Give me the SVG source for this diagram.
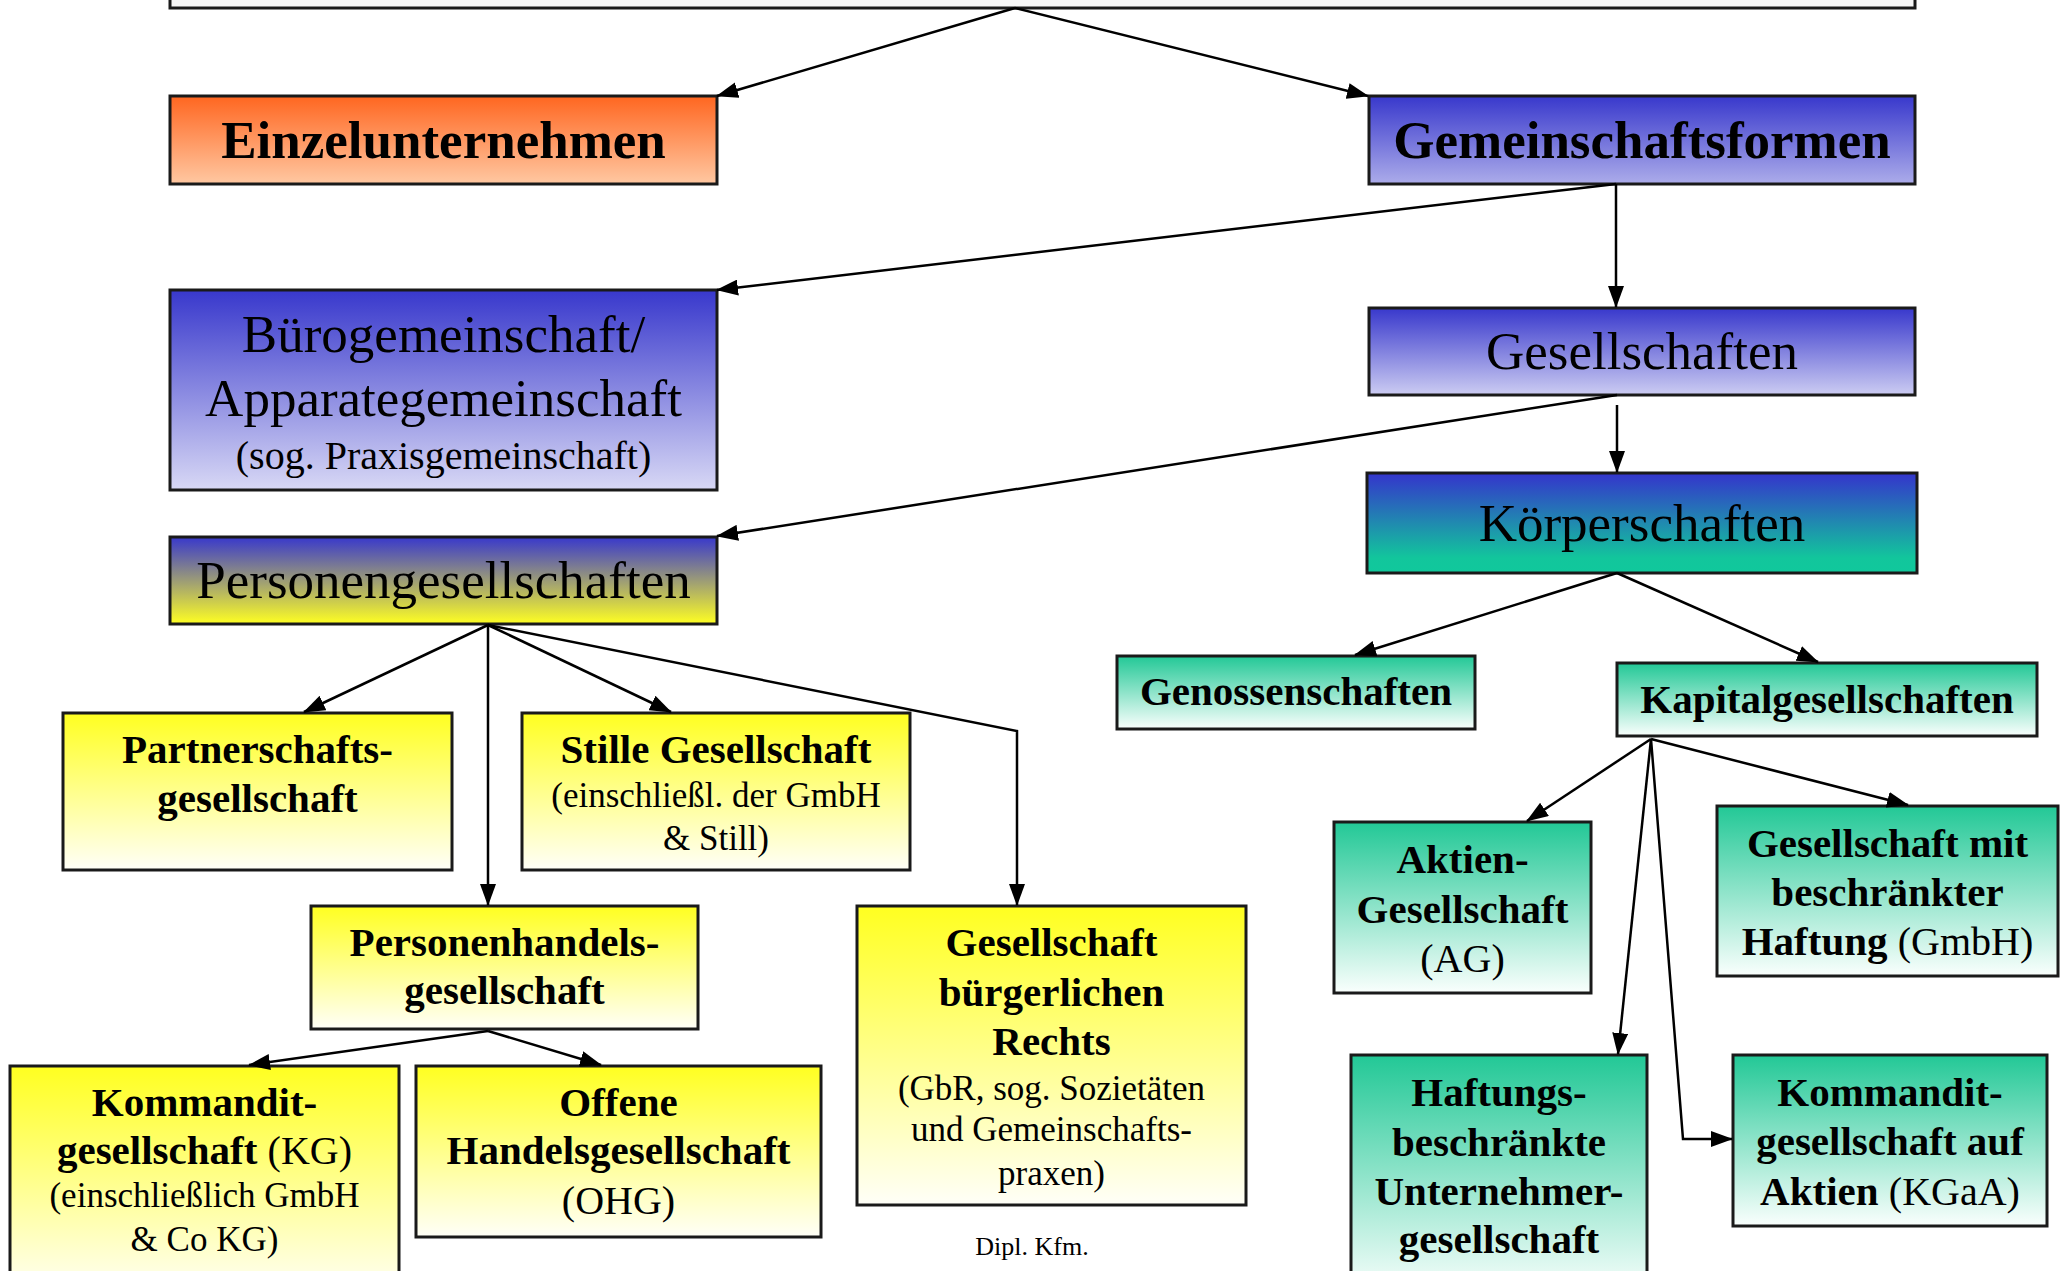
<svg xmlns="http://www.w3.org/2000/svg" width="2067" height="1271" viewBox="0 0 2067 1271">
<style>
.box{stroke:#1a1a1a;stroke-width:3}
text{font-family:"Liberation Serif","Times New Roman",serif;text-anchor:middle;fill:#000}
.b53{font-size:53px;font-weight:bold}
.r53{font-size:53px}
.b40{font-size:41px;font-weight:bold}
.r40{font-size:40px;font-weight:normal}
.r35{font-size:35px}
.con line,.con polyline{stroke:#000;stroke-width:2.5;fill:none;marker-end:url(#arr)}
</style>
<defs>
<marker id="arr" markerUnits="userSpaceOnUse" viewBox="0 0 22 16" refX="21" refY="8" markerWidth="22" markerHeight="16" orient="auto">
<path d="M0,0 L22,8 L0,16 z" fill="#000"/>
</marker>
<linearGradient id="gOr" x1="0" y1="0" x2="0" y2="1"><stop offset="0" stop-color="#ff6620"/><stop offset="1" stop-color="#ffc8a2"/></linearGradient>
<linearGradient id="gBl1" x1="0" y1="0" x2="0" y2="1"><stop offset="0" stop-color="#3838cc"/><stop offset="1" stop-color="#acacea"/></linearGradient>
<linearGradient id="gBl2" x1="0" y1="0" x2="0" y2="1"><stop offset="0" stop-color="#3838cc"/><stop offset="1" stop-color="#d8d8f5"/></linearGradient>
<linearGradient id="gBl3" x1="0" y1="0" x2="0" y2="1"><stop offset="0" stop-color="#3838cc"/><stop offset="1" stop-color="#ccccf2"/></linearGradient>
<linearGradient id="gPer" x1="0" y1="0" x2="0" y2="1"><stop offset="0" stop-color="#3838cc"/><stop offset="1" stop-color="#ffff22"/></linearGradient>
<linearGradient id="gKo" x1="0" y1="0" x2="0" y2="1"><stop offset="0" stop-color="#3434cc"/><stop offset="0.85" stop-color="#12c69c"/><stop offset="1" stop-color="#10c89c"/></linearGradient>
<linearGradient id="gGr" x1="0" y1="0" x2="0" y2="1"><stop offset="0" stop-color="#22c896"/><stop offset="1" stop-color="#fafffd"/></linearGradient>
<linearGradient id="gYe" x1="0" y1="0" x2="0" y2="1"><stop offset="0" stop-color="#ffff20"/><stop offset="1" stop-color="#fffff8"/></linearGradient>
</defs>
<rect width="2067" height="1271" fill="#fff"/>

<g id="top"><rect class="box" x="170" y="-10" width="1745" height="18" fill="#f7f7f7"/></g>

<g id="einzel"><rect class="box" x="170" y="96" width="547" height="88" fill="url(#gOr)"/><text class="b53" x="443.5" y="158">Einzelunternehmen</text></g>
<g id="gemeinschaftsformen"><rect class="box" x="1369" y="96" width="546" height="88" fill="url(#gBl1)"/><text class="b53" x="1642" y="158">Gemeinschaftsformen</text></g>
<g id="buero"><rect class="box" x="170" y="290" width="547" height="200" fill="url(#gBl2)"/><text class="r53" x="443.5" y="352">Bürogemeinschaft/</text><text class="r53" x="443.5" y="416">Apparategemeinschaft</text><text class="r40" x="443.5" y="469">(sog. Praxisgemeinschaft)</text></g>
<g id="gesellschaften"><rect class="box" x="1369" y="308" width="546" height="87" fill="url(#gBl3)"/><text class="r53" x="1642" y="369">Gesellschaften</text></g>
<g id="personen"><rect class="box" x="170" y="537" width="547" height="87" fill="url(#gPer)"/><text class="r53" x="443.5" y="598">Personengesellschaften</text></g>
<g id="koerperschaften"><rect class="box" x="1367" y="473" width="550" height="100" fill="url(#gKo)"/><text class="r53" x="1642" y="541">Körperschaften</text></g>
<g id="genossenschaften"><rect class="box" x="1117" y="656" width="358" height="73" fill="url(#gGr)"/><text class="b40" x="1296" y="705">Genossenschaften</text></g>
<g id="kapital"><rect class="box" x="1617" y="663" width="420" height="73" fill="url(#gGr)"/><text class="b40" x="1827" y="713">Kapitalgesellschaften</text></g>
<g id="ag"><rect class="box" x="1334" y="822" width="257" height="171" fill="url(#gGr)"/><text class="b40" x="1462.5" y="873">Aktien-</text><text class="b40" x="1462.5" y="923">Gesellschaft</text><text class="r40" x="1462.5" y="972">(AG)</text></g>
<g id="gmbh"><rect class="box" x="1717" y="806" width="341" height="170" fill="url(#gGr)"/><text class="b40" x="1887.5" y="857">Gesellschaft mit</text><text class="b40" x="1887.5" y="906">beschränkter</text><text class="b40" x="1887.5" y="955">Haftung <tspan class="r40">(GmbH)</tspan></text></g>
<g id="haftungs"><rect class="box" x="1351" y="1055" width="296" height="240" fill="url(#gGr)"/><text class="b40" x="1499" y="1106">Haftungs-</text><text class="b40" x="1499" y="1156">beschränkte</text><text class="b40" x="1499" y="1205">Unternehmer-</text><text class="b40" x="1499" y="1253">gesellschaft</text></g>
<g id="kgaa"><rect class="box" x="1733" y="1055" width="314" height="171" fill="url(#gGr)"/><text class="b40" x="1890" y="1106">Kommandit-</text><text class="b40" x="1890" y="1155">gesellschaft auf</text><text class="b40" x="1890" y="1205">Aktien <tspan class="r40">(KGaA)</tspan></text></g>
<g id="partnerschaft"><rect class="box" x="63" y="713" width="389" height="157" fill="url(#gYe)"/><text class="b40" x="257.5" y="763">Partnerschafts-</text><text class="b40" x="257.5" y="812">gesellschaft</text></g>
<g id="stille"><rect class="box" x="522" y="713" width="388" height="157" fill="url(#gYe)"/><text class="b40" x="716" y="763">Stille Gesellschaft</text><text class="r35" x="716" y="807">(einschließl. der GmbH</text><text class="r35" x="716" y="850">&amp; Still)</text></g>
<g id="personenhandel"><rect class="box" x="311" y="906" width="387" height="123" fill="url(#gYe)"/><text class="b40" x="504.5" y="956">Personenhandels-</text><text class="b40" x="504.5" y="1004">gesellschaft</text></g>
<g id="gbr"><rect class="box" x="857" y="906" width="389" height="299" fill="url(#gYe)"/><text class="b40" x="1051.5" y="956">Gesellschaft</text><text class="b40" x="1051.5" y="1006">bürgerlichen</text><text class="b40" x="1051.5" y="1055">Rechts</text><text class="r35" x="1051.5" y="1100">(GbR, sog. Sozietäten</text><text class="r35" x="1051.5" y="1141">und Gemeinschafts-</text><text class="r35" x="1051.5" y="1185">praxen)</text></g>
<g id="kg"><rect class="box" x="10" y="1066" width="389" height="230" fill="url(#gYe)"/><text class="b40" x="204.5" y="1116">Kommandit-</text><text class="b40" x="204.5" y="1164">gesellschaft <tspan class="r40">(KG)</tspan></text><text class="r35" x="204.5" y="1207">(einschließlich GmbH</text><text class="r35" x="204.5" y="1251">&amp; Co KG)</text></g>
<g id="ohg"><rect class="box" x="416" y="1066" width="405" height="171" fill="url(#gYe)"/><text class="b40" x="618.5" y="1116">Offene</text><text class="b40" x="618.5" y="1164">Handelsgesellschaft</text><text class="r40" x="618.5" y="1214">(OHG)</text></g>

<text x="1032" y="1255" style="font-size:26px">Dipl. Kfm.</text>

<g id="connectors" class="con">
<line x1="1015" y1="8" x2="717" y2="96"/>
<line x1="1015" y1="8" x2="1368" y2="96"/>
<line x1="1616" y1="184" x2="717" y2="290"/>
<line x1="1616" y1="184" x2="1616" y2="307"/>
<line x1="1617" y1="395" x2="717" y2="536"/>
<line x1="1617" y1="405" x2="1617" y2="472"/>
<line x1="1617" y1="573" x2="1355" y2="655"/>
<line x1="1617" y1="573" x2="1818" y2="662"/>
<line x1="1651" y1="739" x2="1527" y2="821"/>
<line x1="1651" y1="739" x2="1908" y2="805"/>
<line x1="1651" y1="739" x2="1618" y2="1054"/>
<polyline points="1651,739 1683,1139 1732,1139"/>
<line x1="488" y1="625" x2="304" y2="712"/>
<line x1="488" y1="625" x2="488" y2="905"/>
<line x1="488" y1="625" x2="671" y2="712"/>
<polyline points="488,625 1017,731 1017,905"/>
<line x1="488" y1="1031" x2="249" y2="1065"/>
<line x1="488" y1="1031" x2="601" y2="1065"/>
</g>
</svg>
